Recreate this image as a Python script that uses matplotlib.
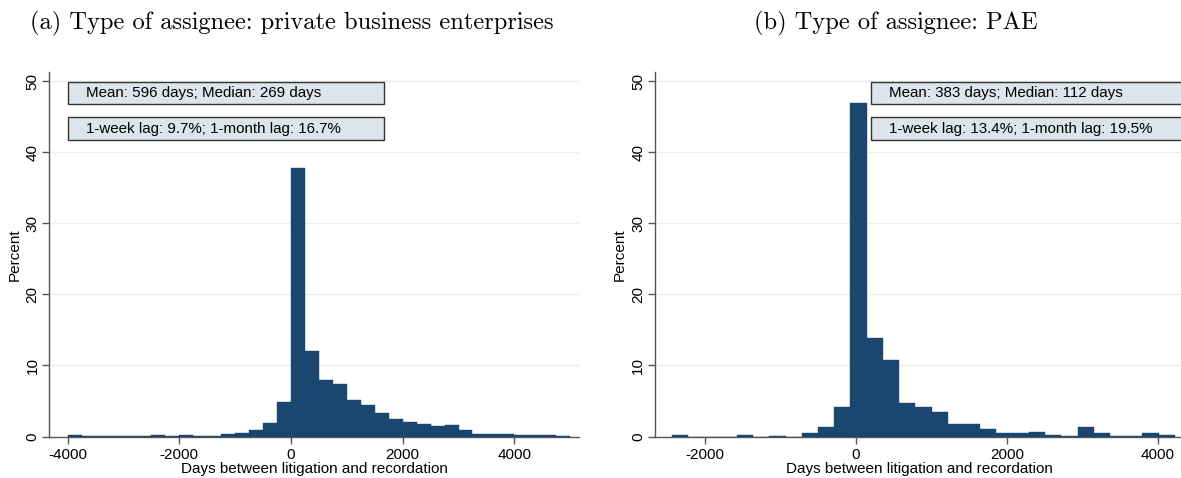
import numpy as np
import matplotlib.pyplot as plt
from matplotlib.patches import Rectangle

plt.rcParams['font.family'] = ['Liberation Sans', 'DejaVu Sans']
plt.rcParams['axes.unicode_minus'] = False

# (a) private business enterprises: 36 bins of 250 days from -4000
pbe_start = -4000
pbe_width = 250
pbe_pct = [0.15, 0.1, 0.1, 0.05, 0.1, 0.1, 0.15, 0.1, 0.2, 0.1, 0.1,
           0.33, 0.56, 0.9, 1.96, 4.86,
           37.8, 12.05, 7.94, 7.33, 5.2, 4.5, 3.3, 2.45, 2.07, 1.7, 1.5, 1.62,
           0.85, 0.4, 0.35, 0.42, 0.25, 0.15, 0.15, 0.1]
pbe_lines = ['Mean: 596 days; Median: 269 days',
             '1-week lag: 9.7%; 1-month lag: 16.7%']

# (b) PAE: 31 bins of ~215 days from -2432
pae_start = -2432
pae_width = 214.8
pae_pct = [0.15, 0, 0, 0, 0.15, 0, 0.12, 0, 0.56, 1.36, 4.16,
           47.0, 13.8, 10.8, 4.7, 4.1, 3.5, 1.7, 1.8, 1.07,
           0.56, 0.56, 0.7, 0.23, 0.12, 1.31, 0.47, 0.12, 0.12, 0.47, 0.15]
pae_lines = ['Mean: 383 days; Median: 112 days',
             '1-week lag: 13.4%; 1-month lag: 19.5%']

bar_col = '#1a476f'
grid_col = '#e9eff1'
box_fill = '#dbe5eb'
axis_col = '#555555'


def panel(ax, start, width, pct, xlim, xticks, lines, box_x):
    pct = np.array(pct)
    left = start + width * np.arange(len(pct))
    ax.bar(left, pct, width=width, align='edge', color=bar_col,
           edgecolor=bar_col, linewidth=0.3, zorder=3)
    ax.set_xlim(*xlim)
    ax.set_ylim(0, 51.3)
    ax.set_xticks(xticks)
    ax.set_yticks([0, 10, 20, 30, 40, 50])
    for y in [10, 20, 30, 40, 50]:
        ax.axhline(y, color=grid_col, lw=1.0, zorder=1)
    for s in ['top', 'right']:
        ax.spines[s].set_visible(False)
    for s in ['left', 'bottom']:
        ax.spines[s].set_color(axis_col)
        ax.spines[s].set_linewidth(1.0)
    ax.tick_params(axis='both', colors=axis_col, labelcolor='black',
                   labelsize=11, length=5, width=1.0)
    ax.tick_params(axis='y', pad=2)
    for lab in ax.get_yticklabels():
        lab.set_rotation(90)
        lab.set_va('center')
    ax.set_ylabel('Percent', fontsize=11, labelpad=3)
    ax.set_xlabel('Days between litigation and recordation', fontsize=11,
                  labelpad=0)

    # two stat boxes at the top
    for (y0, y1), txt in zip([(0.9114, 0.9734), (0.8134, 0.8757)], lines):
        ax.add_patch(Rectangle((box_x, y0), 0.596, y1 - y0,
                               transform=ax.transAxes, facecolor=box_fill,
                               edgecolor='#333333', lw=1.0, zorder=4,
                               clip_on=False))
        ax.text(box_x + 0.034, (y0 + y1) / 2, txt, transform=ax.transAxes,
                fontsize=10.9, va='center', ha='left', zorder=5)


fig = plt.figure(figsize=(11.81, 4.78), dpi=100)
ax1 = fig.add_axes([0.0417, 0.0868, 0.4488, 0.7626])
ax2 = fig.add_axes([0.5546, 0.0868, 0.4480, 0.7626])

panel(ax1, pbe_start, pbe_width, pbe_pct, (-4328, 5162),
      [-4000, -2000, 0, 2000, 4000], pbe_lines, 0.0358)
panel(ax2, pae_start, pae_width, pae_pct, (-2658, 4348),
      [-2000, 0, 2000, 4000], pae_lines, 0.408)

fig.text(0.2468, 0.95, '(a) Type of assignee: private business enterprises',
         fontfamily='cmr10', fontsize=17.6, ha='center', va='center')
fig.text(0.7587, 0.95, '(b) Type of assignee: PAE',
         fontfamily='cmr10', fontsize=17.6, ha='center', va='center')

fig.savefig('out.png', dpi=100)
